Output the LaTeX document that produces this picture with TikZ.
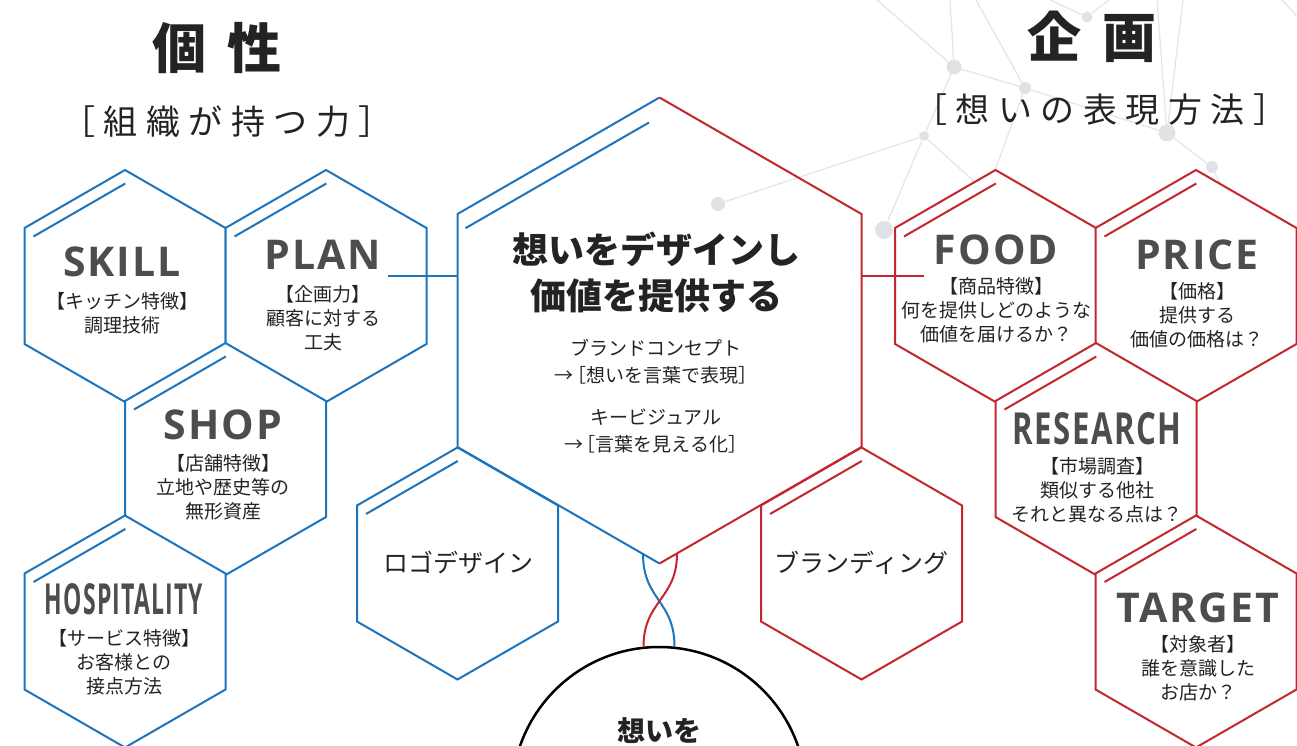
\documentclass[tikz,border=0pt]{standalone}
\usepackage{fontspec}
\setmainfont{Noto Sans CJK JP}
\newfontfamily\headfont{Open Sans}[LetterSpace=5]
\newfontfamily\widefont{Noto Sans CJK JP}[LetterSpace=25]
\usetikzlibrary{positioning}

\definecolor{hexblue}{RGB}{28,117,188}
\definecolor{hexred}{RGB}{196,38,46}
\definecolor{netline}{RGB}{228,228,230}
\definecolor{netdot}{RGB}{225,226,229}
\definecolor{headgray}{RGB}{77,77,77}
\definecolor{ink}{RGB}{35,35,35}

\tikzset{
  cell/.style={line width=2pt, fill=white},
  pics/honeycomb/.style={code={
    \draw[cell, draw=#1] (0,-116) -- (100.5,-58) -- (100.5,58) -- (0,116) -- (-100.5,58) -- (-100.5,-58) -- cycle;
    \draw[line width=2pt, #1] (-91.5,-49.5) -- (0.3,-102.5);
  }},
  wire/.style={line width=2pt, #1},
  net/.style={netline, line width=1.2pt},
  hub/.style={circle, fill=netdot, inner sep=0, minimum size=#1},
  heading/.style={font=\headfont\bfseries\fontsize{41}{41}\selectfont, text=headgray, inner sep=0},
  note/.style={font=\fontsize{19}{24}\selectfont, text=ink, align=center, inner sep=0},
  bigtitle/.style={font=\bfseries\fontsize{54}{54}\selectfont, text=ink, inner sep=0},
  subtitle/.style={font=\widefont\fontsize{34}{34}\selectfont, text=ink, inner sep=0},
  coretitle/.style={font=\bfseries\fontsize{36}{46}\selectfont, text=ink, align=center, inner sep=0},
  corenote/.style={font=\fontsize{19}{27}\selectfont, text=ink, align=center, inner sep=0},
  tag/.style={font=\fontsize{25}{25}\selectfont, text=ink, inner sep=0},
}

\begin{document}
\begin{tikzpicture}[x=1pt, y=-1pt]
\useasboundingbox (0,0) rectangle (1297,746);
\clip (0,0) rectangle (1297,746);

% background network
\node[hub=14pt] (n1) at (718,204) {};
\node[hub=10pt] (n2) at (924,136) {};
\node[hub=15pt] (n3) at (954,67) {};
\node[hub=12pt] (n4) at (1025,88) {};
\node[hub=11pt] (n5) at (1087,17) {};
\node[hub=18pt] (n6) at (884,230) {};
\node[hub=17pt] (n7) at (1167,133) {};
\node[hub=12pt] (n8) at (1212,167) {};
\coordinate (e1) at (877,0);
\coordinate (e2) at (950,0);
\coordinate (e3) at (976,0);
\coordinate (e4) at (1050,0);
\coordinate (e5) at (1109,0);
\coordinate (e6) at (1157,0);
\coordinate (e7) at (1183,0);
\coordinate (e8) at (1000,205);
\coordinate (e9) at (988,190);
\coordinate (e10) at (1230,203);
\coordinate (e11) at (1282,0);
\coordinate (e12) at (1305,25);
\draw[net] (n1) -- (n2) (n2) -- (n3) (n2) -- (n6) (n2) -- (e8)
           (n3) -- (e1) (n3) -- (e2) (n3) -- (n4)
           (n4) -- (e3) (n4) -- (e9) (n4) -- (n7)
           (n5) -- (e4) (n5) -- (e5)
           (n7) -- (e6) (n7) -- (e7) (n7) -- (n8) (n8) -- (e10)
           (e11) -- (e12);

% central hexagon
\coordinate (core) at (659.5,330.5);
\draw[wire=hexblue] (659.5,97.5) -- (457.5,214) -- (457.5,447) -- (659.5,563.5);
\draw[wire=hexred] (659.5,97.5) -- (861.5,214) -- (861.5,447) -- (659.5,563.5);
\draw[wire=hexblue] (465.5,228.2) -- (649,122.5);

% cells
\pic at (125,286) {honeycomb=hexblue};
\pic at (326,286) {honeycomb=hexblue};
\pic at (225.5,459) {honeycomb=hexblue};
\pic at (125,631.5) {honeycomb=hexblue};
\pic at (457.5,563.5) {honeycomb=hexblue};
\pic at (861.5,563.5) {honeycomb=hexred};
\pic at (995.5,286) {honeycomb=hexred};
\pic at (1196,286) {honeycomb=hexred};
\pic at (1096,459) {honeycomb=hexred};
\pic at (1196,631.5) {honeycomb=hexred};

% links
\coordinate (plan-tap) at (388,276);
\coordinate (core-west) at (457.5,276);
\coordinate (core-east) at (861.5,276);
\coordinate (food-tap) at (924,276);
\draw[wire=hexblue] (plan-tap) -- (core-west);
\draw[wire=hexred] (core-east) -- (food-tap);

\node[draw=black, line width=2.5pt, circle, minimum size=294pt, inner sep=0] (root) at (659,794) {};
\node[font=\bfseries\fontsize{28}{28}\selectfont, text=ink, inner sep=0] (root-label) at (659,731) {想いを};
\coordinate (twist-b) at (643,554);
\coordinate (twist-r) at (677,553.5);
\draw[wire=hexblue] (twist-b) .. controls +(0,46) and +(0,-46) .. (root.84);
\draw[wire=hexred] (twist-r) .. controls +(0,46) and +(0,-46) .. (root.96);

% titles
\node[bigtitle] (trait) at (217,48.5) {個\hspace{0.4em}性};
\node[subtitle] (trait-sub) at (227,122) {［組織が持つ力］};
\node[bigtitle] (scheme) at (1092,36.5) {企\hspace{0.4em}画};
\node[subtitle] (scheme-sub) at (1100,110) {［想いの表現方法］};

\node[coretitle] (core-title) at (656,272) {想いをデザインし\\価値を提供する};
\node[corenote] (concept) at (656,361.5) {ブランドコンセプト\\→\hspace{-0.35em}［想いを言葉で表現］};
\node[corenote] (visual) at (656,430.5) {キービジュアル\\→\hspace{-0.35em}［言葉を見える化］};

% blue side
\node[heading] (skill-head) at (122,262) {SKILL};
\node[note, below=15pt of skill-head] (skill-note) {【キッチン特徴】\\調理技術};
\node[heading] (plan-head) at (323,255) {PLAN};
\node[note, below=15pt of plan-head] (plan-note) {【企画力】\\顧客に対する\\工夫};
\node[heading] (shop-head) at (223,425) {SHOP};
\node[note, below=14pt of shop-head] (shop-note) {【店舗特徴】\\立地や歴史等の\\無形資産};
\node[heading] (hosp-head) at (124,599.5) {\resizebox{158pt}{31pt}{HOSPITALITY}};
\node[note, below=14pt of hosp-head] (hosp-note) {【サービス特徴】\\お客様との\\接点方法};
\node[tag] (logo-label) at (458.5,563) {ロゴデザイン};

% red side
\node[heading] (food-head) at (996,250) {FOOD};
\node[note, below=12pt of food-head] (food-note) {【商品特徴】\\何を提供しどのような\\価値を届けるか？};
\node[heading] (price-head) at (1197,255) {PRICE};
\node[note, below=12pt of price-head] (price-note) {【価格】\\提供する\\価値の価格は？};
\node[heading] (research-head) at (1097,429) {\resizebox{169pt}{32pt}{RESEARCH}};
\node[note, below=12pt of research-head] (research-note) {【市場調査】\\類似する他社\\それと異なる点は？};
\node[heading] (target-head) at (1198,608) {TARGET};
\node[note, below=12pt of target-head] (target-note) {【対象者】\\誰を意識した\\お店か？};
\node[tag] (brand-label) at (861.5,563) {ブランディング};
\end{tikzpicture}
\end{document}
